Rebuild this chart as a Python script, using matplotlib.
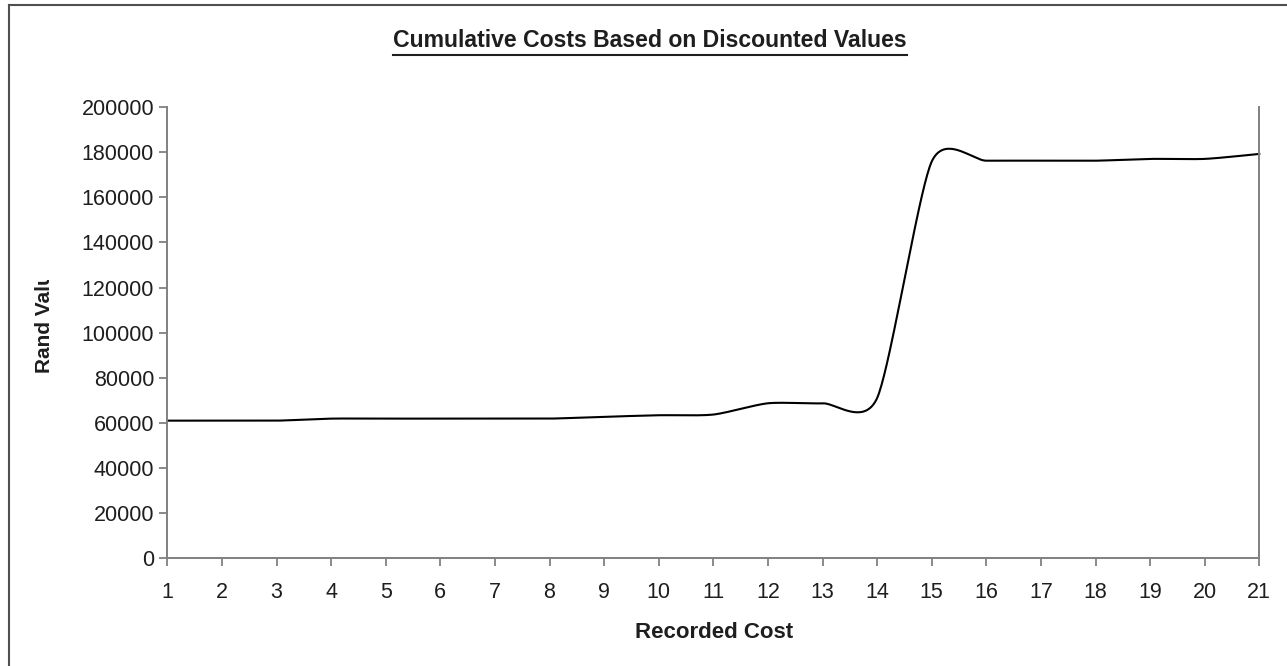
import numpy as np
import matplotlib
matplotlib.use("Agg")
import matplotlib.pyplot as plt
from matplotlib.lines import Line2D
from matplotlib.transforms import Bbox

# Recorded cost periods and cumulative discounted cost (Rand)
periods = list(range(1, 22))
cumulative_cost = [61000, 61000, 61000, 61900, 61900, 61900, 61900, 61900,
                   62700, 63400, 63700, 68700, 68700, 71000, 175800, 176200,
                   176200, 176200, 177000, 177000, 179200]
y_ticks = list(range(0, 200001, 20000))

title_text = "Cumulative Costs Based on Discounted Values"
x_title = "Recorded Cost"
y_title = "Rand Value"

W, H = 1287, 666
plt.rcParams["font.family"] = ["Liberation Sans", "DejaVu Sans"]
text_col = "#1e1e1e"
axis_col = "#808080"

fig = plt.figure(figsize=(W / 100, H / 100), dpi=100)
fig.patch.set_facecolor("white")
ax = fig.add_axes([167.3 / W, 1 - 558.3 / H, (1259.3 - 167.3) / W, (558.3 - 107) / H])

ax.set_xlim(1, 21)
ax.set_ylim(0, 200000)
ax.set_xticks(periods)
ax.set_xticklabels([str(p) for p in periods])
ax.set_yticks(y_ticks)
ax.set_yticklabels([str(v) for v in y_ticks])

for side in ("left", "bottom", "right"):
    ax.spines[side].set_color(axis_col)
    ax.spines[side].set_linewidth(1.4)
ax.spines["top"].set_visible(False)
ax.tick_params(axis="both", colors=axis_col, width=1.3, labelsize=15.5,
               labelcolor=text_col, direction="out")
ax.tick_params(axis="y", length=6, pad=3.5)
ax.tick_params(axis="x", length=6, pad=11)


def smooth_curve(xs, ys, k=0.12, steps=40):
    """Piecewise cubic Bezier through the points, arms of k * (next - previous)."""
    p = np.column_stack([xs, ys]).astype(float)
    n = len(p)
    t = np.linspace(0, 1, steps)[1:, None]
    out = [p[0]]
    for i in range(n - 1):
        p0 = p[i - 1] if i > 0 else p[i]
        p1, p2 = p[i], p[i + 1]
        p3 = p[i + 2] if i + 2 < n else p[i + 1]
        c1 = p1 + k * (p2 - p0)
        c2 = p2 - k * (p3 - p1)
        seg = ((1 - t) ** 3) * p1 + 3 * ((1 - t) ** 2) * t * c1 \
            + 3 * (1 - t) * t ** 2 * c2 + t ** 3 * p2
        out.extend(seg)
    return np.array(out)


curve = smooth_curve(periods, cumulative_cost)
ax.plot(curve[:, 0], curve[:, 1], color="black", lw=1.5, solid_joinstyle="round",
        clip_on=False)

# Axis titles
fig.text(714 / W, 1 - 638.5 / H, x_title, fontsize=16, fontweight="bold",
         color=text_col, ha="center", va="baseline")
ylab = fig.text(45 / W, 1 - 373 / H, y_title, rotation=90, fontsize=15,
                fontweight="bold", color=text_col, ha="center", va="bottom")
ylab.set_clip_box(Bbox([[0, 0], [120, H - 280]]))
ylab.set_clip_on(True)

# Chart title with underline
title = fig.text(650 / W, 1 - 47 / H, title_text, fontsize=16.6, fontweight="bold",
                 color=text_col, ha="center", va="baseline")

# Chart area frame (top and left edges)
fig.add_artist(Line2D([9 / W, 1], [1 - 4.5 / H, 1 - 4.5 / H], transform=fig.transFigure,
                      color="#505050", lw=1.5))
fig.add_artist(Line2D([9 / W, 9 / W], [0, 1 - 4.5 / H], transform=fig.transFigure,
                      color="#505050", lw=1.5))

fig.canvas.draw()
bb = title.get_window_extent(renderer=fig.canvas.get_renderer())
uy = (bb.y0 - 2.5) / H
fig.add_artist(Line2D([bb.x0 / W, bb.x1 / W], [uy, uy], transform=fig.transFigure,
                      color=text_col, lw=1.5))

fig.savefig("out.png", dpi=100, facecolor="white")
